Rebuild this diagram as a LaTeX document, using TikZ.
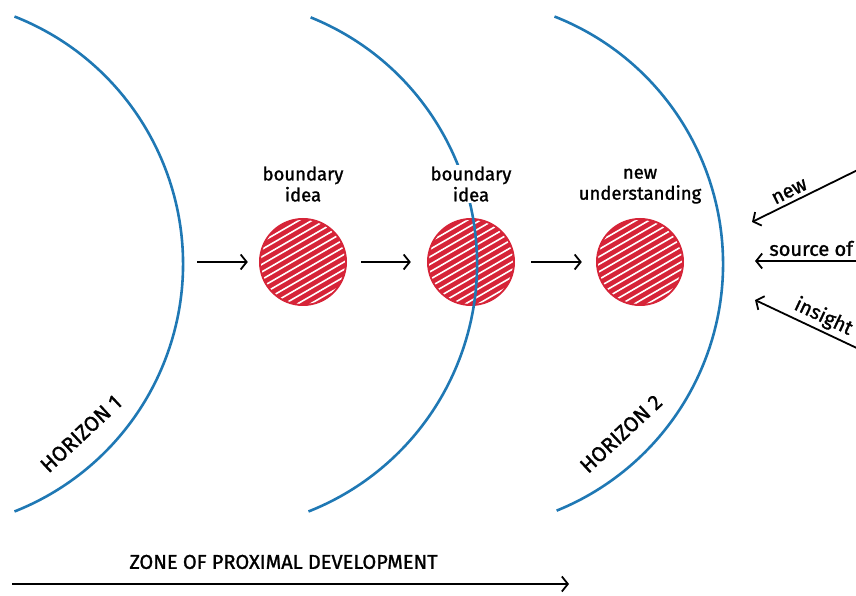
\documentclass[tikz,border=0pt]{standalone}
\usepackage{fontspec}
\setmainfont{Fira Sans}
\newfontfamily\penfont{Fira Sans}[FakeBold=1.3]
\usetikzlibrary{positioning,arrows.meta}

\definecolor{horizonblue}{RGB}{31,120,180}
\definecolor{ideared}{RGB}{214,36,56}

\begin{document}
\begin{tikzpicture}[x=1pt, y=1pt,
	horizon/.style={draw=horizonblue, line width=2.6pt},
	idea/.style={circle, fill=ideared, minimum size=88pt, inner sep=0pt},
	caption/.style={align=center, font=\penfont\fontsize{18.5}{21}\selectfont, fill=white, inner sep=1pt},
	note/.style={font=\penfont\fontsize{20}{22}\selectfont, inner sep=1pt},
	hlabel/.style={font=\penfont\fontsize{21}{23}\selectfont},
	flow/.style={line width=1.8pt, -{Straight Barb[length=6pt, width=15pt]}},
	inflow/.style={line width=1.8pt, {Straight Barb[length=6pt, width=15pt]}-},
]

\useasboundingbox (0,0) rectangle (856,596);
\clip (0,0) rectangle (856,596);

\newcommand\hR{266};
\newcommand\hY{332};
\newcommand\iY{334};

% white stripes over a red ball
\newcommand\hatchball[1]{
\begin{scope}[shift={(#1.center)}, rotate=30]
	\clip (0,0) circle (42);
	\foreach \k in {-40,-33.5,...,40}
		\draw[white, line width=1.6pt] (-50,\k) -- (50,\k);
\end{scope}
}

% Horizon centres
\coordinate (h1c) at (-83, \hY);
\coordinate (h2c) at (211, \hY);
\coordinate (h3c) at (457, \hY);
\coordinate (h1east) at (183, \iY);

% Ideas
\node [idea] (idea1) at (303, \iY) {};
\node [idea] (idea2) at (471, \iY) {};
\node [idea] (idea3) at (640, \iY) {};
\hatchball{idea1}
\hatchball{idea2}
\hatchball{idea3}

% Horizons
\draw[horizon] (h1c) ++(68.5:\hR) arc[start angle=68.5, end angle=-68.5, radius=\hR];
\draw[horizon] (h2c) ++(68:\hR) arc[start angle=68, end angle=-68.5, radius=\hR];
\draw[horizon] (h3c) ++(68.5:\hR) arc[start angle=68.5, end angle=-68, radius=\hR];

\path (h1c) ++(-46:236) node[hlabel, rotate=43] (horizon1_label) {HORIZON 1};
\path (h3c) ++(-46:236) node[hlabel, rotate=43] (horizon2_label) {HORIZON 2};

% Labels over the ideas
\node [caption, above=15pt of idea1] (idea1_label) {
boundary\\
idea
};
\node [caption, above=15pt of idea2] (idea2_label) {
boundary\\
idea
};
\node [caption, above=13pt of idea3] (idea3_label) {
new\\
understanding
};

% Steps
\draw[flow, shorten <=14pt, shorten >=11pt] (h1east) -- (idea1);
\draw[flow, shorten <=14pt, shorten >=16pt] (idea1) -- (idea2);
\draw[flow, shorten <=16pt, shorten >=14pt] (idea2) -- (idea3);

% Incoming from the right
\coordinate (new_tip) at (752, 374);
\coordinate (new_tail) at (880, 437);
\coordinate (source_tip) at (755, 335);
\coordinate (source_tail) at (880, 335);
\coordinate (insight_tip) at (755, 296);
\coordinate (insight_tail) at (880, 237);

\draw[inflow] (new_tip) -- (new_tail) node[note, pos=0.33, above=3pt, sloped] {new};
\draw[inflow] (source_tip) -- (source_tail) node[note, pos=0.1, above=3pt, anchor=south west] {source of};
\draw[inflow] (insight_tip) -- (insight_tail) node[note, pos=0.5, above=2pt, sloped] {insight};

% Zone of proximal development
\coordinate (zpd_start) at (12, 12);
\coordinate (zpd_end) at (569, 12);
\draw[flow] (zpd_start) -- (zpd_end) node[note, pos=0.5, above=13pt, xshift=-7pt] {ZONE OF PROXIMAL DEVELOPMENT};

\end{tikzpicture}
\end{document}
